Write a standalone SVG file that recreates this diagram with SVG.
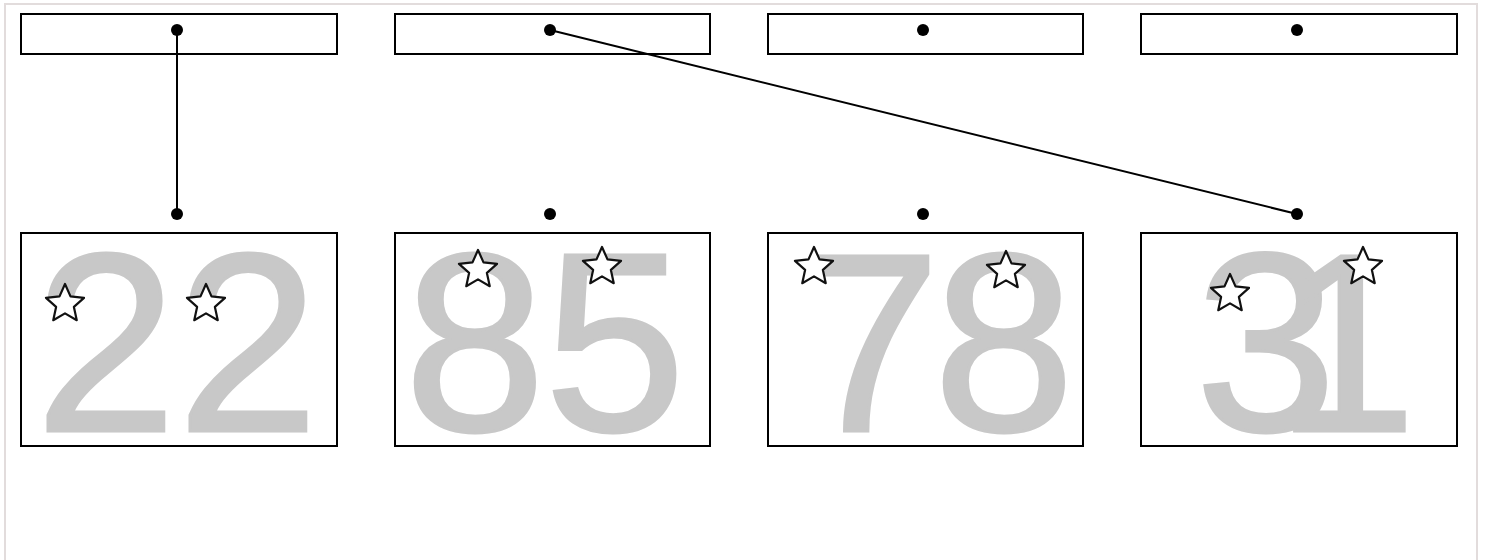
<svg xmlns="http://www.w3.org/2000/svg" xmlns:xlink="http://www.w3.org/1999/xlink" width="1486" height="560" viewBox="0 0 1486 560">
<style>
.frame{fill:#ffffff;stroke:#e2dcdc;stroke-width:2}
.box{fill:#ffffff;stroke:#000000;stroke-width:2}
.dot{fill:#000000}
.digit{font-family:"Liberation Sans",Arial,sans-serif;font-size:254px;fill:#c8c8c8;stroke:#c8c8c8;stroke-width:3;text-anchor:middle}
.star{fill:#ffffff;stroke:#111111;stroke-width:2.2;stroke-linejoin:round}
.conn{stroke:#000000;stroke-width:2;fill:none}
</style>
<defs>
<path id="star" d="M0,-20 L5.5,-7.6 L19.02,-6.18 L8.9,2.9 L11.76,16.18 L0,9.4 L-11.76,16.18 L-8.9,2.9 L-19.02,-6.18 L-5.5,-7.6 Z"/>
</defs>
<rect class="frame" x="5" y="4" width="1472" height="600"/>
<g id="top1"><rect class="box" x="21" y="14" width="316" height="40"/></g>
<g id="top2"><rect class="box" x="395" y="14" width="315" height="40"/></g>
<g id="top3"><rect class="box" x="768" y="14" width="315" height="40"/></g>
<g id="top4"><rect class="box" x="1141" y="14" width="316" height="40"/></g>
<g id="card1">
<rect class="box" x="21" y="233" width="316" height="213"/>
<text class="digit" y="431"><tspan x="106">2</tspan><tspan x="248">2</tspan></text>
<use xlink:href="#star" class="star" x="65" y="304"/>
<use xlink:href="#star" class="star" x="206" y="304"/>
</g>
<g id="card2">
<rect class="box" x="395" y="233" width="315" height="213"/>
<text class="digit" y="431"><tspan x="475">8</tspan><tspan x="615">5</tspan></text>
<use xlink:href="#star" class="star" x="478" y="270"/>
<use xlink:href="#star" class="star" x="602" y="267"/>
</g>
<g id="card3">
<rect class="box" x="768" y="233" width="315" height="213"/>
<text class="digit" y="431"><tspan x="870">7</tspan><tspan x="1004">8</tspan></text>
<use xlink:href="#star" class="star" x="814" y="267"/>
<use xlink:href="#star" class="star" x="1006" y="271"/>
</g>
<g id="card4">
<rect class="box" x="1141" y="233" width="316" height="213"/>
<text class="digit" y="431"><tspan x="1266">3</tspan><tspan x="1346">1</tspan></text>
<use xlink:href="#star" class="star" x="1230" y="294"/>
<use xlink:href="#star" class="star" x="1363" y="267"/>
</g>
<g id="connectors">
<line class="conn" x1="177" y1="30" x2="177" y2="214"/>
<line class="conn" x1="550" y1="30" x2="1297" y2="214"/>
</g>
<g id="dots">
<circle class="dot" cx="177" cy="30" r="6"/>
<circle class="dot" cx="550" cy="30" r="6"/>
<circle class="dot" cx="923" cy="30" r="6"/>
<circle class="dot" cx="1297" cy="30" r="6"/>
<circle class="dot" cx="177" cy="214" r="6"/>
<circle class="dot" cx="550" cy="214" r="6"/>
<circle class="dot" cx="923" cy="214" r="6"/>
<circle class="dot" cx="1297" cy="214" r="6"/>
</g>
</svg>
